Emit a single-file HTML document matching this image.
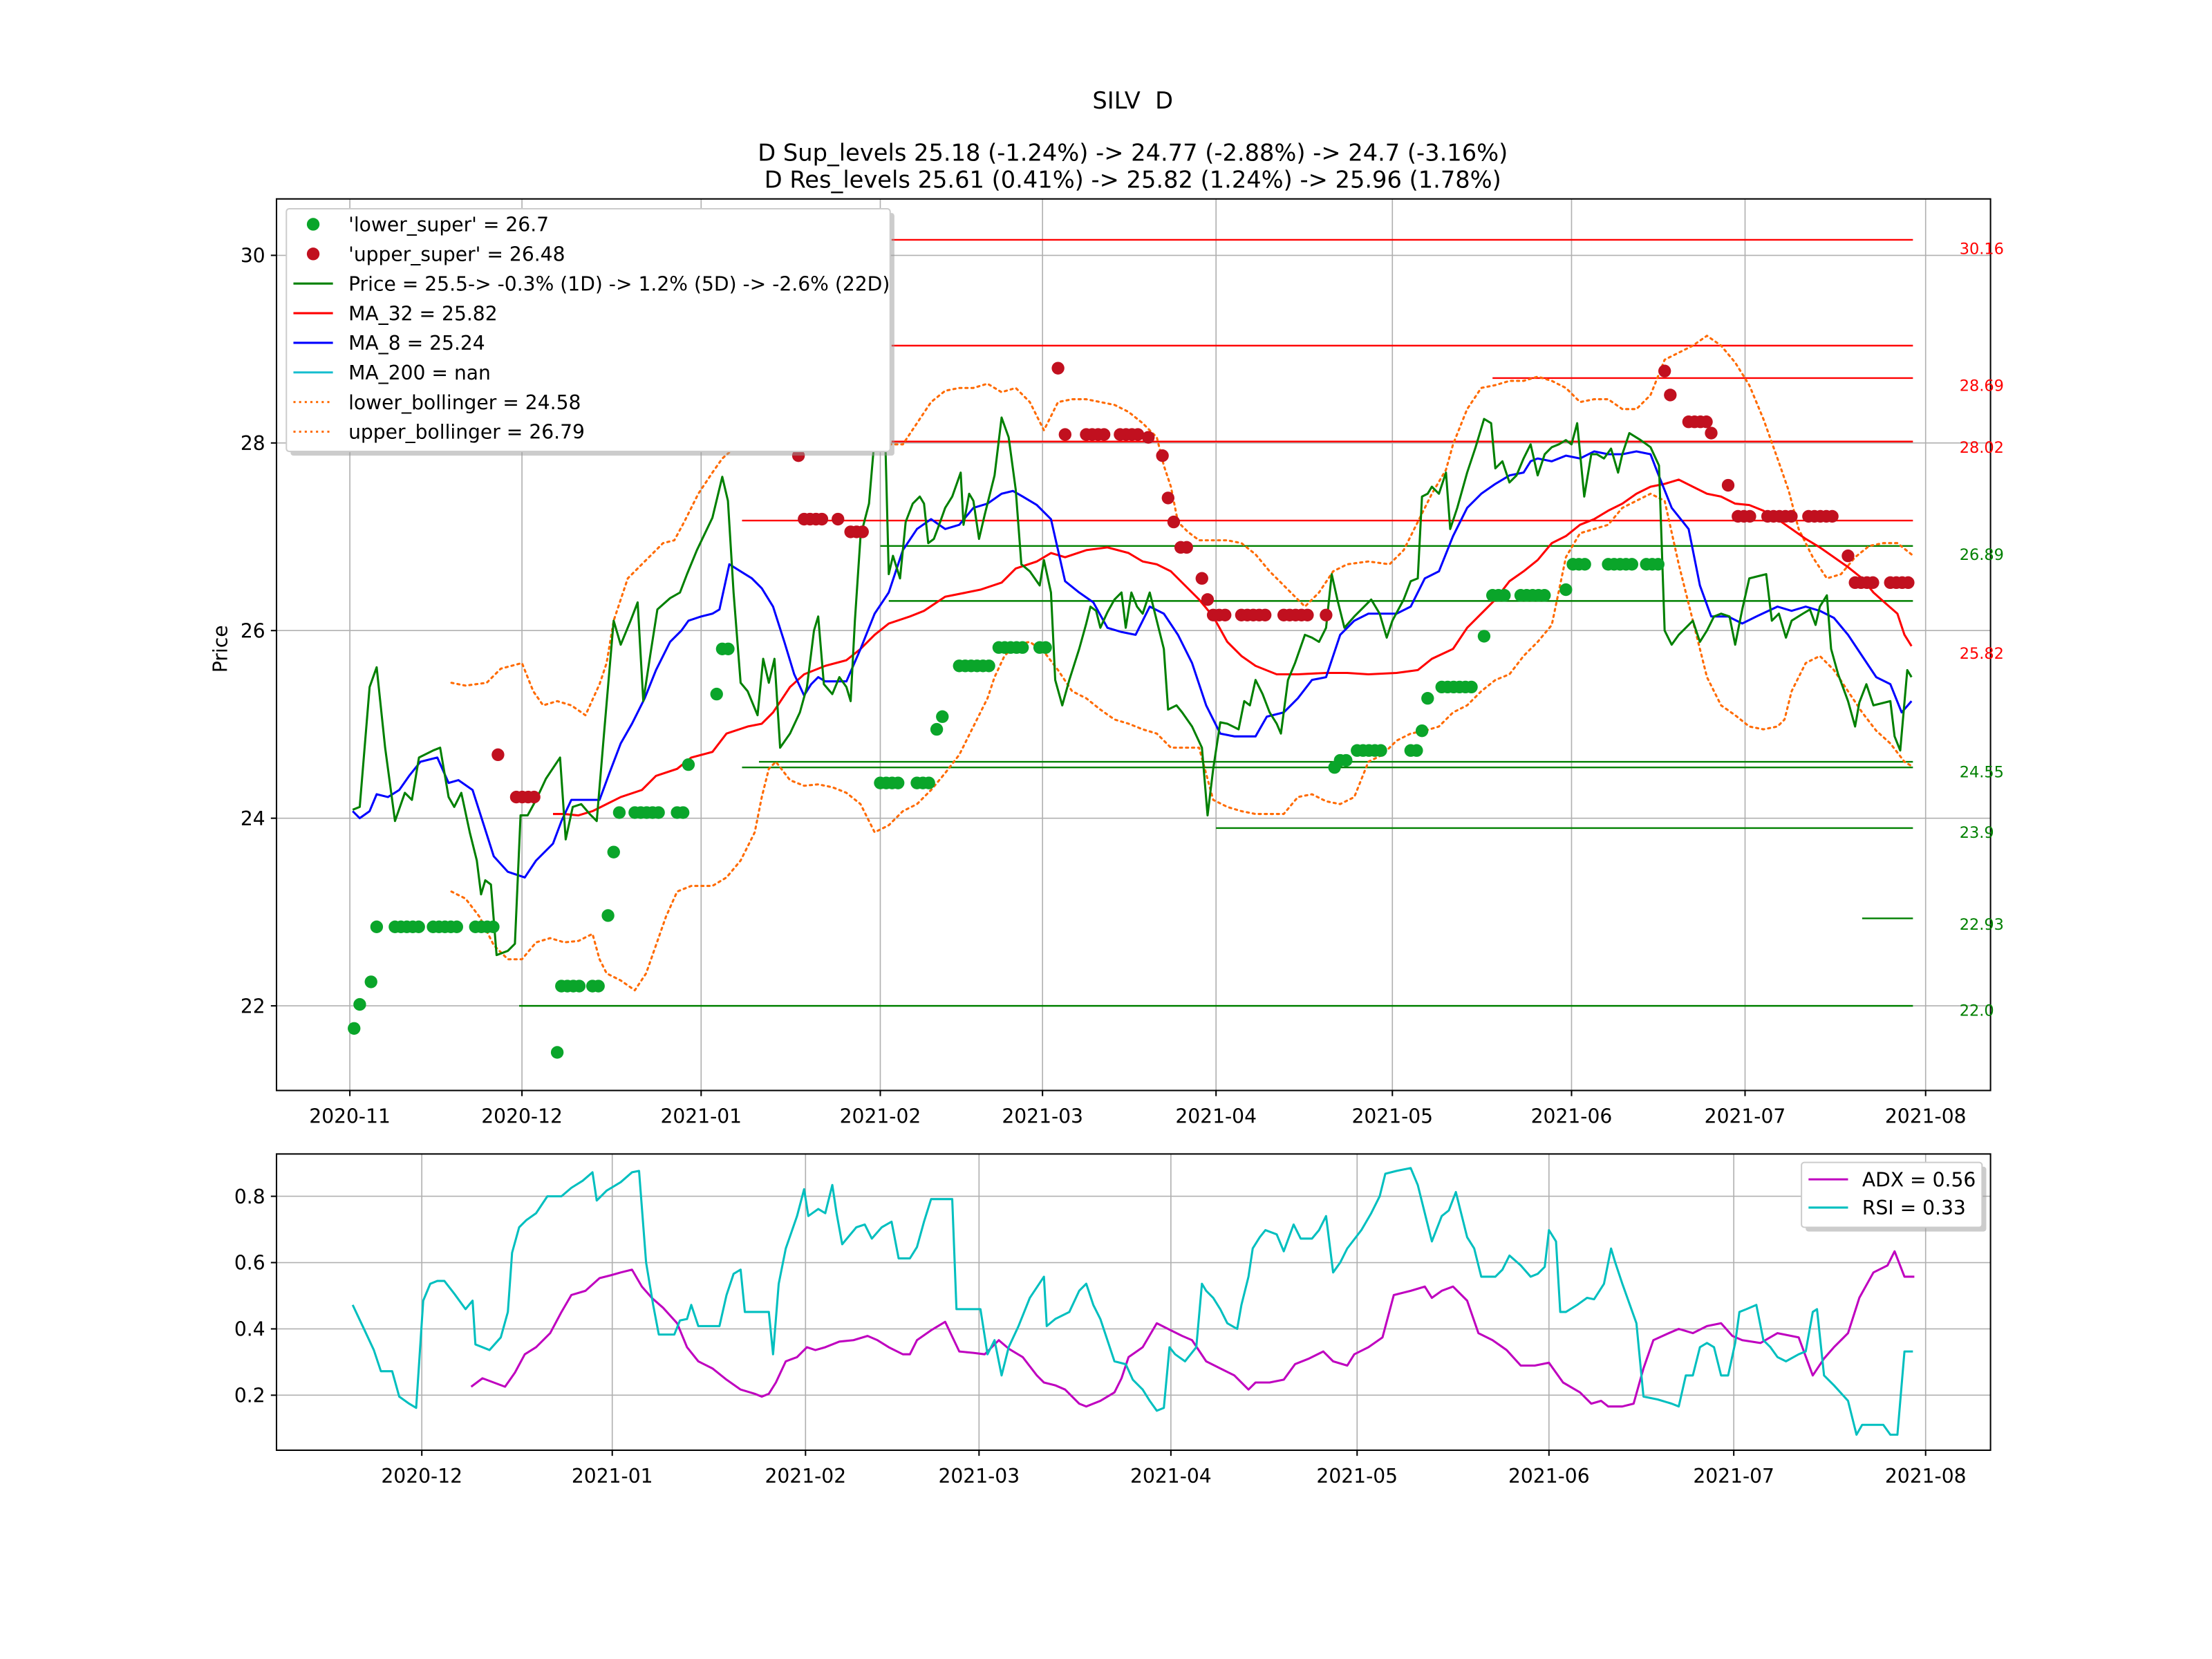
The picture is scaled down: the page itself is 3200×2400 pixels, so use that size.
<!DOCTYPE html>
<html><head><meta charset="utf-8"><style>html,body{margin:0;padding:0;background:#fff}svg{display:block}text{font-family:"DejaVu Sans","Liberation Sans",sans-serif}</style></head>
<body>
<svg id="s" width="3200" height="2400" viewBox="0 0 1568 1176" preserveAspectRatio="none" xmlns="http://www.w3.org/2000/svg">
<rect width="1568" height="1176" fill="#fff"/>
<text x="803" y="77" font-size="16.5" text-anchor="middle">SILV &#160;D</text>
<text x="803" y="114" font-size="16.5" text-anchor="middle">D Sup_levels 25.18 (-1.24%) -&gt; 24.77 (-2.88%) -&gt; 24.7 (-3.16%)</text>
<text x="803" y="133" font-size="16.5" text-anchor="middle">D Res_levels 25.61 (0.41%) -&gt; 25.82 (1.24%) -&gt; 25.96 (1.78%)</text>
<g id="grid" stroke="#b0b0b0" stroke-width="0.8"></g>
<g id="hl"></g>
<g id="series" fill="none" stroke-width="1.5" stroke-linejoin="round"></g>
<g id="dots"></g>
<rect x="196" y="141" width="1215" height="632" fill="none" stroke="#000" stroke-width="1"/>
<rect x="196" y="818" width="1215" height="210" fill="none" stroke="#000" stroke-width="1"/>
<g id="ticks" font-size="13.8"></g>
<text transform="translate(161,460) rotate(-90)" font-size="13.8" text-anchor="middle">Price</text>
<g font-size="11">
<text x="1389" y="180" fill="red">30.16</text>
<text x="1389" y="277" fill="red">28.69</text>
<text x="1389" y="321" fill="red">28.02</text>
<text x="1389" y="397" fill="green">26.89</text>
<text x="1389" y="467" fill="red">25.82</text>
<text x="1389" y="551" fill="green">24.55</text>
<text x="1389" y="594" fill="green">23.9</text>
<text x="1389" y="659" fill="green">22.93</text>
<text x="1389" y="720" fill="green">22.0</text>
</g>
<rect x="206" y="151" width="428" height="172" fill="#999" opacity="0.5" rx="2"/>
<rect x="203" y="148" width="428" height="172" fill="#fff" stroke="#ccc" rx="2"/>
<g font-size="13.8">
<circle cx="222" cy="159" r="4.5" fill="#0aa52a"/><text x="247" y="164">'lower_super' = 26.7</text>
<circle cx="222" cy="180" r="4.5" fill="#c1101f"/><text x="247" y="185">'upper_super' = 26.48</text>
<line x1="208" y1="201" x2="236" y2="201" stroke="green" stroke-width="1.5"/><text x="247" y="206">Price = 25.5-&gt; -0.3% (1D) -&gt; 1.2% (5D) -&gt; -2.6% (22D)</text>
<line x1="208" y1="222" x2="236" y2="222" stroke="red" stroke-width="1.5"/><text x="247" y="227">MA_32 = 25.82</text>
<line x1="208" y1="243" x2="236" y2="243" stroke="blue" stroke-width="1.5"/><text x="247" y="248">MA_8 = 25.24</text>
<line x1="208" y1="264" x2="236" y2="264" stroke="#17becf" stroke-width="1.5"/><text x="247" y="269">MA_200 = nan</text>
<line x1="208" y1="285" x2="236" y2="285" stroke="#ff6a00" stroke-width="1.5" stroke-dasharray="1.5 2.5"/><text x="247" y="290">lower_bollinger = 24.58</text>
<line x1="208" y1="306" x2="236" y2="306" stroke="#ff6a00" stroke-width="1.5" stroke-dasharray="1.5 2.5"/><text x="247" y="311">upper_bollinger = 26.79</text>
</g>
<rect x="1280" y="827" width="128" height="46" fill="#999" opacity="0.5" rx="2"/>
<rect x="1277" y="824" width="128" height="46" fill="#fff" stroke="#ccc" rx="2"/>
<g font-size="13.8">
<line x1="1282" y1="836" x2="1310" y2="836" stroke="#bf00bf" stroke-width="1.5"/><text x="1320" y="841">ADX = 0.56</text>
<line x1="1282" y1="856" x2="1310" y2="856" stroke="#00bfbf" stroke-width="1.5"/><text x="1320" y="861">RSI = 0.33</text>
</g>
<script>
var NS="http://www.w3.org/2000/svg";
function el(p,t,a,txt){var e=document.createElementNS(NS,t);for(var k in a)e.setAttribute(k,a[k]);if(txt!=null)e.textContent=txt;document.getElementById(p).appendChild(e);return e;}
var mx=[[248,"2020-11"],[370,"2020-12"],[497,"2021-01"],[624,"2021-02"],[739,"2021-03"],[862,"2021-04"],[987,"2021-05"],[1114,"2021-06"],[1237,"2021-07"],[1365,"2021-08"]];
mx.forEach(function(m){el("grid","line",{x1:m[0],x2:m[0],y1:141,y2:773});el("ticks","line",{x1:m[0],x2:m[0],y1:773,y2:777,stroke:"#000"});el("ticks","text",{x:m[0],y:796,"text-anchor":"middle"},m[1]);});
[[181,"30"],[314,"28"],[447,"26"],[580,"24"],[713,"22"]].forEach(function(m){el("grid","line",{x1:196,x2:1411,y1:m[0],y2:m[0]});el("ticks","line",{x1:192,x2:196,y1:m[0],y2:m[0],stroke:"#000"});el("ticks","text",{x:188,y:m[0]+5,"text-anchor":"end"},m[1]);});
var lx=[[299,"2020-12"],[434,"2021-01"],[571,"2021-02"],[694,"2021-03"],[830,"2021-04"],[962,"2021-05"],[1098,"2021-06"],[1229,"2021-07"],[1365,"2021-08"]];
lx.forEach(function(m){el("grid","line",{x1:m[0],x2:m[0],y1:818,y2:1028});el("ticks","line",{x1:m[0],x2:m[0],y1:1028,y2:1032,stroke:"#000"});el("ticks","text",{x:m[0],y:1051,"text-anchor":"middle"},m[1]);});
[[848,"0.8"],[895,"0.6"],[942,"0.4"],[989,"0.2"]].forEach(function(m){el("grid","line",{x1:196,x2:1411,y1:m[0],y2:m[0]});el("ticks","line",{x1:192,x2:196,y1:m[0],y2:m[0],stroke:"#000"});el("ticks","text",{x:188,y:m[0]+5,"text-anchor":"end"},m[1]);});
[[170,632,"red"],[245,632,"red"],[268,1058,"red"],[313,632,"red"],[369,526,"red"],[387,624,"green"],[426,630,"green"],[540,538,"green"],[544,526,"green"],[587,862,"green"],[651,1320,"green"],[713,368,"green"]].forEach(function(h){el("hl","line",{x1:h[1],x2:1356,y1:h[0],y2:h[0],stroke:h[2],"stroke-width":1.2});});
function pl(s,c,dash){var a={points:s,stroke:c};if(dash){a["stroke-dasharray"]="1.5 2.8";a["stroke-linecap"]="round";}el("series","polyline",a);}
pl("320,632 330,637 340,650 350,670 360,680 370,680 380,668 390,665 400,668 410,667 420,662 425,680 430,690 440,695 450,702 458,690 465,670 472,650 480,632 490,628 505,628 515,622 525,610 535,590 540,565 545,545 550,540 560,553 570,557 580,556 590,558 600,562 610,570 620,590 630,585 640,575 650,570 660,560 670,548 680,535 690,515 700,495 705,480 712,465 720,457 730,455 740,462 750,475 760,490 770,495 780,503 790,510 800,513 810,517 820,520 830,530 840,530 850,530 860,567 870,572 880,575 890,577 900,577 910,577 920,565 930,563 940,568 950,570 960,565 970,540 980,535 990,525 1000,520 1010,518 1020,515 1030,505 1040,500 1050,490 1060,482 1070,478 1080,465 1090,455 1100,443 1110,395 1120,378 1130,375 1140,372 1150,360 1160,355 1170,350 1180,355 1190,400 1200,440 1210,480 1220,500 1230,507 1240,515 1250,517 1260,515 1265,510 1270,490 1280,470 1290,465 1300,475 1310,490 1320,505 1330,518 1340,527 1350,540 1355,543","#ff6a00",1);
pl("320,484 330,486 345,484 355,474 370,470 378,490 385,500 395,497 405,500 415,507 425,485 430,470 435,440 445,410 460,395 470,385 478,383 485,370 495,350 505,335 512,325 520,318 632,315 640,315 650,300 660,285 670,277 680,275 690,275 700,272 710,278 720,275 730,285 740,305 750,285 760,283 770,283 780,285 790,287 800,292 810,300 820,310 825,330 830,345 835,370 842,377 850,383 860,383 870,383 880,385 890,393 900,405 910,415 920,425 925,430 935,420 945,405 955,400 970,398 985,400 995,390 1005,370 1015,350 1025,333 1030,315 1040,290 1050,275 1060,273 1070,270 1080,270 1090,267 1100,270 1110,275 1120,285 1130,283 1140,283 1150,290 1160,290 1170,280 1180,255 1190,250 1200,245 1210,238 1220,245 1230,257 1240,273 1250,297 1260,325 1268,348 1275,375 1285,395 1295,410 1305,407 1315,395 1325,387 1335,385 1345,385 1355,393","#ff6a00",1);
pl("392,577 400,577 410,578 420,575 430,570 440,565 455,560 465,550 480,545 490,537 505,533 515,520 530,515 540,513 548,505 560,487 570,478 585,472 600,468 610,460 620,450 630,442 645,437 655,433 670,423 685,420 695,418 710,413 720,403 735,398 745,392 755,395 770,390 785,388 800,392 810,398 820,400 830,405 840,415 850,425 860,437 870,455 880,465 890,472 905,478 920,478 940,477 955,477 970,478 990,477 1005,475 1015,467 1030,460 1040,445 1050,435 1060,425 1070,412 1080,405 1090,397 1100,385 1110,380 1120,372 1130,368 1140,362 1150,357 1160,350 1170,345 1180,343 1190,340 1200,345 1210,350 1220,352 1230,357 1240,358 1250,362 1260,368 1270,375 1280,382 1290,388 1300,395 1310,402 1320,410 1328,420 1337,428 1345,435 1350,450 1355,458","red");
pl("250,575 255,580 262,575 267,563 275,565 283,560 290,550 298,540 310,537 318,555 325,553 335,560 343,585 350,607 360,618 372,622 380,610 392,598 398,582 405,567 415,567 425,567 432,548 440,527 448,513 457,495 465,475 475,455 483,447 488,440 497,437 505,435 510,432 517,400 525,405 533,410 540,417 548,430 556,455 563,478 570,493 575,485 580,480 585,483 600,483 610,460 620,435 630,420 640,390 650,375 660,368 670,375 680,372 690,360 700,357 710,350 718,348 725,352 735,358 745,368 755,412 765,420 775,427 785,445 795,448 805,450 815,430 825,435 835,450 845,470 855,500 865,520 875,522 890,522 898,508 910,505 920,495 930,482 940,480 950,450 960,440 970,435 980,435 990,435 1000,430 1010,410 1020,405 1030,380 1040,360 1050,350 1060,343 1070,337 1080,335 1085,327 1090,325 1100,327 1110,323 1120,325 1130,320 1140,322 1150,322 1160,320 1170,322 1175,335 1185,360 1197,375 1205,415 1213,437 1225,437 1235,442 1245,437 1260,430 1270,433 1280,430 1290,433 1300,438 1310,450 1320,465 1330,480 1340,485 1348,505 1355,497","blue");
pl("250,574 255,572 262,487 267,473 273,530 280,582 287,562 292,567 297,537 307,532 312,530 318,565 322,572 327,562 333,590 338,610 341,634 344,624 348,627 352,677 360,674 365,669 369,578 374,578 380,567 387,552 397,537 401,595 406,572 412,570 418,577 423,582 428,522 435,440 440,457 447,440 452,427 456,497 461,464 466,432 475,424 482,420 487,407 494,390 505,367 512,338 516,355 520,420 525,484 530,490 537,507 541,467 545,484 549,467 553,530 560,520 567,505 572,487 577,447 580,437 584,485 590,492 595,480 600,487 603,497 606,440 610,380 616,357 620,310 623,270 627,290 630,407 633,394 638,410 642,370 647,357 652,352 655,357 658,385 662,382 665,374 670,360 675,352 681,335 683,372 687,350 690,355 694,382 698,365 705,337 710,296 715,310 720,347 724,400 730,405 737,415 740,397 745,420 748,482 753,500 758,482 765,460 770,442 773,430 777,433 780,445 785,434 790,425 795,420 798,445 802,420 806,430 810,435 815,420 820,440 825,460 828,503 834,500 838,505 845,515 852,530 856,578 860,545 865,512 870,513 878,517 882,497 886,500 890,482 895,492 900,505 905,513 908,520 913,482 918,470 925,450 930,452 935,455 940,445 944,407 948,425 953,445 960,437 967,430 972,425 978,435 983,452 987,440 995,425 1000,412 1005,410 1008,352 1012,350 1015,345 1020,350 1025,335 1028,375 1033,360 1040,335 1046,317 1052,297 1057,300 1060,332 1065,327 1070,342 1075,337 1080,325 1085,315 1090,337 1095,322 1100,317 1105,315 1110,312 1114,315 1118,300 1123,352 1128,322 1132,322 1137,325 1142,318 1147,335 1150,322 1155,307 1163,312 1170,317 1176,330 1180,447 1185,457 1190,450 1195,445 1200,440 1205,455 1210,447 1215,437 1220,435 1226,437 1230,457 1235,432 1240,410 1252,407 1256,440 1261,435 1266,452 1270,440 1278,435 1283,432 1287,443 1290,430 1295,422 1298,460 1303,478 1310,497 1315,515 1318,498 1323,485 1328,500 1340,497 1343,522 1347,532 1352,475 1355,480","green");
pl("334,983 342,977 350,980 358,983 365,973 372,960 380,955 390,945 398,930 405,918 415,915 425,906 433,904 440,902 448,900 455,912 462,920 470,927 480,938 487,955 495,965 505,970 515,978 525,985 535,988 540,990 545,988 550,980 557,965 565,962 572,955 578,957 585,955 595,951 605,950 615,947 622,950 630,955 640,960 645,960 650,950 660,943 670,937 680,958 690,959 698,960 708,950 715,956 725,962 735,975 740,980 748,982 755,985 765,995 770,997 780,993 790,987 795,977 800,962 810,955 820,938 828,942 838,947 845,950 855,965 865,970 875,975 885,985 890,980 900,980 910,978 918,967 928,963 938,958 945,965 955,968 960,960 970,955 980,948 988,918 1000,915 1010,912 1015,920 1022,915 1030,912 1040,922 1048,945 1058,950 1068,957 1078,968 1088,968 1098,966 1108,980 1120,987 1128,995 1135,993 1140,997 1150,997 1158,995 1165,970 1172,950 1183,945 1190,942 1200,945 1210,940 1220,938 1228,947 1235,950 1248,952 1260,945 1275,948 1285,975 1293,963 1300,955 1310,945 1318,920 1328,902 1338,897 1343,887 1350,905 1357,905","#bf00bf");
pl("250,925 258,942 265,957 270,972 278,972 283,990 290,995 295,998 300,922 305,910 310,908 315,908 322,917 330,928 335,922 337,953 342,955 347,957 355,948 360,930 363,888 368,870 373,865 380,860 388,848 398,848 405,842 413,837 420,831 423,851 430,844 440,838 448,831 453,830 458,895 463,925 467,946 478,946 482,936 487,935 490,925 495,940 510,940 515,918 520,903 525,900 528,930 545,930 548,960 552,910 557,885 565,862 570,843 573,862 580,857 585,860 590,840 593,860 597,882 607,870 613,868 618,878 625,870 632,866 637,892 645,892 650,884 655,866 660,850 675,850 678,928 695,928 700,960 705,950 710,975 715,955 722,940 730,920 740,905 742,940 748,935 758,930 765,915 770,910 775,925 780,935 785,950 790,965 798,967 803,978 810,985 815,993 820,1000 825,998 829,955 833,960 840,965 848,955 852,910 855,915 860,920 865,928 870,938 877,942 880,925 885,905 888,885 893,877 897,872 905,875 910,887 917,868 922,878 930,878 935,872 940,862 945,902 950,895 955,885 965,872 972,860 978,848 982,832 990,830 1000,828 1005,840 1010,860 1015,880 1022,862 1027,858 1032,845 1040,877 1045,885 1050,905 1060,905 1065,900 1070,890 1078,897 1085,905 1090,903 1095,898 1098,872 1103,880 1106,930 1110,930 1118,925 1125,920 1130,921 1137,910 1142,885 1145,895 1150,910 1160,938 1165,990 1175,992 1185,995 1190,997 1195,975 1200,975 1205,955 1210,952 1215,955 1220,975 1225,975 1230,952 1233,930 1238,928 1245,925 1250,950 1255,955 1260,962 1266,965 1275,960 1280,958 1285,930 1288,928 1293,975 1300,982 1310,993 1316,1017 1320,1010 1335,1010 1340,1017 1345,1017 1350,958 1356,958","#00bfbf");
function dots(list,c){list.forEach(function(d){if(d.length==2){el("dots","circle",{cx:d[0],cy:d[1],r:4.5,fill:c});}else{for(var x=d[0];x<=d[1]+0.1;x+=4.2)el("dots","circle",{cx:x,cy:d[2],r:4.5,fill:c});}});}
dots([[251,729],[255,712],[263,696],[267,657],[280,297,657],[307,327,657],[337,350,657],[395,746],[398,412,699],[420,428,699],[431,649],[435,604],[439,576],[450,470,576],[480,486,576],[488,542],[508,492],[512,518,460],[624,640,555],[650,660,555],[664,517],[668,508],[680,702,472],[708,725,459],[737,745,459],[946,544],[950,955,539],[962,982,532],[1000,1005,532],[1008,518],[1012,495],[1022,1043,487],[1052,451],[1058,1070,422],[1078,1097,422],[1110,418],[1115,1127,400],[1140,1157,400],[1167,1177,400]],"#0aa52a");
dots([[353,535],[366,381,565],[566,323],[570,583,368],[594,598,368],[603,612,377],[750,261],[755,308],[770,785,308],[794,810,308],[814,310],[824,323],[828,353],[832,370],[837,842,388],[852,410],[856,425],[860,870,436],[880,898,436],[910,928,436],[940,436],[1180,263],[1184,280],[1197,1210,299],[1213,307],[1225,344],[1232,1242,366],[1253,1270,366],[1282,1300,366],[1310,394],[1315,1330,413],[1340,1356,413]],"#c1101f");
</script>
</svg>
</body></html>
